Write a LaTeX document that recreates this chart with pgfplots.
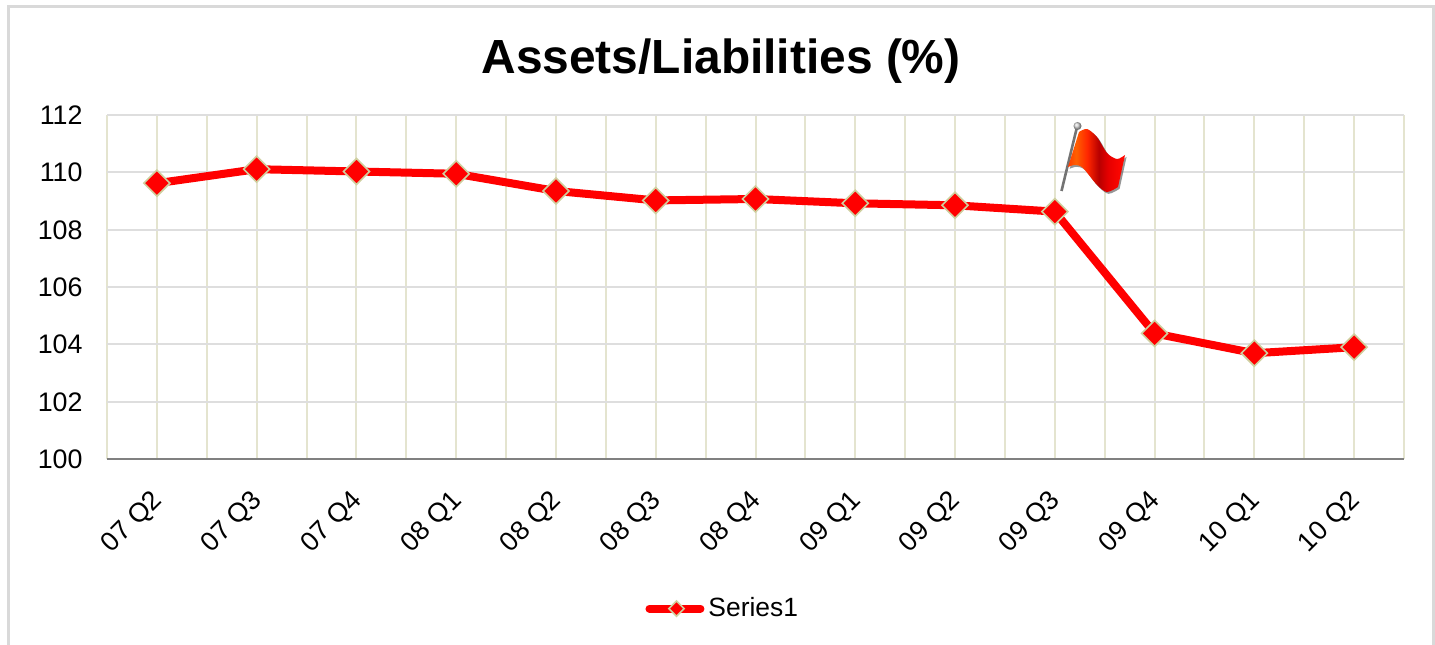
\documentclass[border=0pt]{standalone}
\usepackage{pgfplots}
\pgfplotsset{compat=1.18}
\usepackage{fontspec}
\setmainfont{Liberation Sans}
\definecolor{vgrid}{HTML}{E4E4CF}
\definecolor{hgrid}{HTML}{DEDEDE}
\definecolor{mborder}{HTML}{CFCF9F}
\definecolor{frameg}{HTML}{D9D9D9}
\pgfdeclarehorizontalshading{flagsh}{100bp}{
  color(0bp)=(red!75!orange); color(22bp)=(red!65!orange);
  color(32bp)=(orange!75!red); color(42bp)=(red!70!orange);
  color(52bp)=(red!72!black); color(60bp)=(red!90!black);
  color(72bp)=(red!95!orange); color(88bp)=(red!85!orange); color(100bp)=(orange!60!red)}
\begin{document}
\begin{tikzpicture}
\useasboundingbox (0,0) rectangle (717.5pt,322pt);
\fill[white] (0,0) rectangle (717.5pt,322pt);
\draw[frameg,line width=1.5pt] (4.3pt,-3pt) -- (4.3pt,318.5pt) -- (716.5pt,318.5pt) -- (716.5pt,-3pt);
\begin{axis}[
  at={(53.5pt,92.5pt)}, anchor=south west,
  scale only axis, width=648.5pt, height=172pt,
  xmin=-0.5, xmax=12.5, ymin=100, ymax=112,
  xtick={0,1,2,3,4,5,6,7,8,9,10,11,12},
  xticklabels={07 Q2,07 Q3,07 Q4,08 Q1,08 Q2,08 Q3,08 Q4,09 Q1,09 Q2,09 Q3,09 Q4,10 Q1,10 Q2},
  minor xtick={-0.5,0.5,1.5,2.5,3.5,4.5,5.5,6.5,7.5,8.5,9.5,10.5,11.5,12.5},
  ytick={100,102,104,106,108,110,112},
  xmajorgrids, xminorgrids, ymajorgrids,
  major grid style={line width=1pt},
  x grid style={vgrid,line width=1pt},
  minor x grid style={vgrid,line width=1pt},
  y grid style={hgrid,line width=1pt},
  major tick length=0pt, minor tick length=0pt,
  axis line style={draw=none},
  /pgf/number format/assume math mode=true,
  tick label style={font=\fontsize{13.4pt}{15pt}\selectfont,text=black},
  x tick label style={rotate=45,anchor=north east,xshift=-9.2pt,yshift=-4.4pt},
  y tick label style={xshift=-8.7pt,yshift=-0.2pt},
  title={}, clip=false,
  legend style={at={(0.4755,-0.435)},anchor=center,draw=none,fill=none,
    font=\fontsize{13.2pt}{15pt}\selectfont,inner sep=0pt},
  legend cell align=left,
  legend image code/.code={
    \draw[red,line width=4pt,line cap=round] (1.5pt,0pt) -- (27pt,0pt);
    \draw[mborder,fill=red,line width=0.8pt] (15pt,3.8pt) -- (18.8pt,0pt) -- (15pt,-3.8pt) -- (11.2pt,0pt) -- cycle;
  },
]
\addplot[red,line width=4pt,mark=square*,
  mark options={rotate=45,draw=mborder,fill=red,line width=0.8pt,mark size=4.6pt}]
  coordinates {(0,109.62)(1,110.11)(2,110.03)(3,109.95)(4,109.35)(5,109.02)(6,109.07)(7,108.92)(8,108.85)(9,108.63)(10,104.38)(11,103.69)(12,103.90)};
\addlegendentry{Series1}
\draw[gray,line width=1pt] (rel axis cs:0,0) -- (rel axis cs:1,0);
\end{axis}
\node[font=\bfseries\fontsize{23.95pt}{26pt}\selectfont,anchor=center] at (360.5pt,291.5pt) {Assets/Liabilities (\%)};
\begin{scope}[x=0.5pt,y=-0.5pt,yshift=322pt]
  % flag shadow
  \fill[black!75,opacity=.55,xshift=0.8pt,yshift=-0.9pt] plot[smooth] coordinates {(1079,132)(1087,129)(1097,137)(1107,153)(1117,159)(1125,155)} -- plot[smooth] coordinates {(1118,187)(1107,192)(1097,185)(1083,168)(1075,165)(1068,167)} -- cycle;
  % pole
  \draw[black!55,line width=1.3pt] (1061.5,191) -- (1077,127);
  \shade[ball color=gray!35] (1077.5,126) circle (4);
  % flag
  \shade[shading=flagsh] plot[smooth] coordinates {(1079,132)(1087,129)(1097,137)(1107,153)(1117,159)(1125,155)} -- plot[smooth] coordinates {(1118,187)(1107,192)(1097,185)(1083,168)(1075,165)(1068,167)} -- cycle;
\end{scope}
\end{tikzpicture}
\end{document}
